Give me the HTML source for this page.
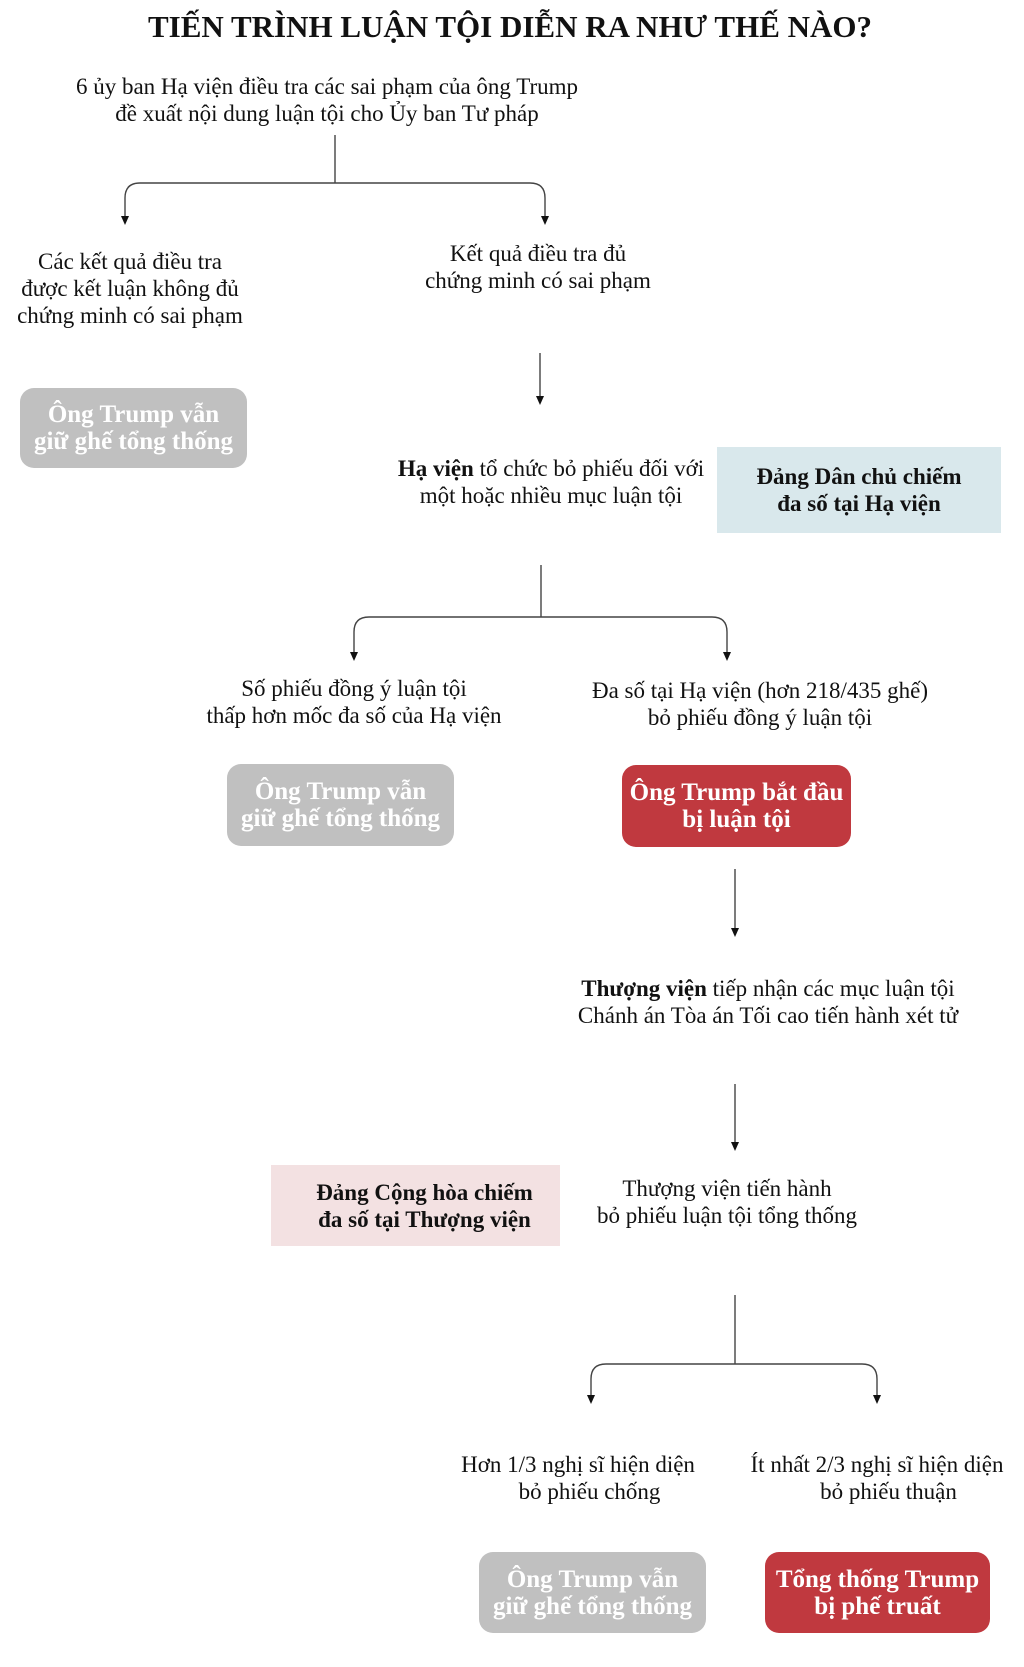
<!DOCTYPE html>
<html><head><meta charset="utf-8"><style>
body{margin:0;width:1024px;height:1667px;background:#fff;position:relative;overflow:hidden;font-family:"Liberation Serif",serif;color:#111}
.t{position:absolute;text-align:center;font-size:23px;line-height:27px;white-space:nowrap;transform:translateX(-50%)}
.b{position:absolute;border-radius:14px;color:#fff;font-weight:bold;font-size:25px;line-height:27px;text-align:center;display:flex;align-items:center;justify-content:center;white-space:nowrap}
.g{background:#c0c0c0}.r{background:#c0393f}
.sq{position:absolute;font-weight:bold;font-size:23px;line-height:27px;text-align:center;display:flex;align-items:center;justify-content:center;white-space:nowrap}
svg{position:absolute;left:0;top:0}
</style></head><body>
<div class="t" style="left:510px;top:8px;font-size:31px;line-height:38px;font-weight:bold">TIẾN TRÌNH LUẬN TỘI DIỄN RA NHƯ THẾ NÀO?</div>
<div class="t" style="left:327px;top:73px">6 ủy ban Hạ viện điều tra các sai phạm của ông Trump<br>đề xuất nội dung luận tội cho Ủy ban Tư pháp</div>
<div class="t" style="left:130px;top:248px">Các kết quả điều tra<br>được kết luận không đủ<br>chứng minh có sai phạm</div>
<div class="t" style="left:538px;top:240px">Kết quả điều tra đủ<br>chứng minh có sai phạm</div>
<div class="b g" style="left:20px;top:388px;width:227px;height:80px">Ông Trump vẫn<br>giữ ghế tổng thống</div>
<div class="t" style="left:551px;top:455px"><b>Hạ viện</b> tổ chức bỏ phiếu đối với<br>một hoặc nhiều mục luận tội</div>
<div class="sq" style="left:717px;top:447px;width:284px;height:86px;background:#d9e8ec">Đảng Dân chủ chiếm<br>đa số tại Hạ viện</div>
<div class="t" style="left:354px;top:675px">Số phiếu đồng ý luận tội<br>thấp hơn mốc đa số của Hạ viện</div>
<div class="t" style="left:760px;top:677px">Đa số tại Hạ viện (hơn 218/435 ghế)<br>bỏ phiếu đồng ý luận tội</div>
<div class="b g" style="left:227px;top:764px;width:227px;height:82px">Ông Trump vẫn<br>giữ ghế tổng thống</div>
<div class="b r" style="left:622px;top:765px;width:229px;height:82px">Ông Trump bắt đầu<br>bị luận tội</div>
<div class="t" style="left:768px;top:975px"><b>Thượng viện</b> tiếp nhận các mục luận tội<br>Chánh án Tòa án Tối cao tiến hành xét tử</div>
<div class="sq" style="left:271px;top:1165px;width:289px;height:81px;background:#f3e1e2;padding-left:18px;box-sizing:border-box">Đảng Cộng hòa chiếm<br>đa số tại Thượng viện</div>
<div class="t" style="left:727px;top:1175px">Thượng viện tiến hành<br>bỏ phiếu luận tội tổng thống</div>
<div class="t" style="left:578px;top:1451px">Hơn 1/3 nghị sĩ hiện diện<br>&nbsp;&nbsp;&nbsp;&nbsp;bỏ phiếu chống</div>
<div class="t" style="left:877px;top:1451px">Ít nhất 2/3 nghị sĩ hiện diện<br>&nbsp;&nbsp;&nbsp;&nbsp;bỏ phiếu thuận</div>
<div class="b g" style="left:479px;top:1552px;width:227px;height:81px">Ông Trump vẫn<br>giữ ghế tổng thống</div>
<div class="b r" style="left:765px;top:1552px;width:225px;height:81px">Tổng thống Trump<br>bị phế truất</div>
<svg width="1024" height="1667">
<g fill="none" stroke="#444" stroke-width="1.4">
<path d="M335,135 V183"/>
<path d="M125,217 V198 Q125,183 140,183 H530 Q545,183 545,198 V217"/>
<path d="M540,353 V397"/>
<path d="M541,565 V617"/>
<path d="M354,653 V632 Q354,617 369,617 H712 Q727,617 727,632 V653"/>
<path d="M735,869 V929"/>
<path d="M735,1084 V1143"/>
<path d="M735,1295 V1364"/>
<path d="M591,1396 V1379 Q591,1364 606,1364 H862 Q877,1364 877,1379 V1396"/>
</g>
<g fill="#111">
<polygon points="121,216 129,216 125,225"/>
<polygon points="541,216 549,216 545,225"/>
<polygon points="536,396 544,396 540,405"/>
<polygon points="350,652 358,652 354,661"/>
<polygon points="723,652 731,652 727,661"/>
<polygon points="731,928 739,928 735,937"/>
<polygon points="731,1142 739,1142 735,1151"/>
<polygon points="587,1395 595,1395 591,1404"/>
<polygon points="873,1395 881,1395 877,1404"/>
</g>
</svg>
</body></html>
